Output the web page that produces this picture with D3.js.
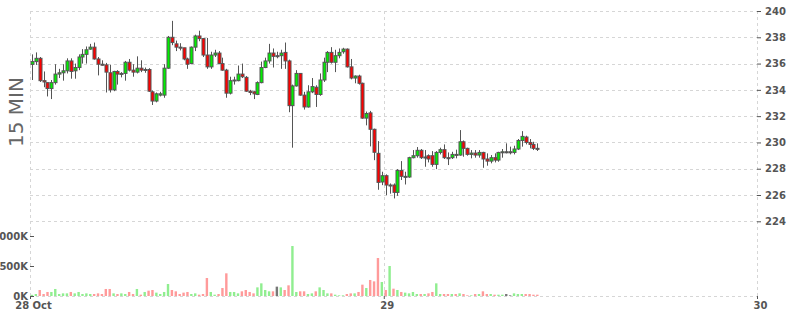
<!DOCTYPE html>
<html><head><meta charset="utf-8">
<script src="https://cdn.jsdelivr.net/npm/d3@7"></script>
<style>html,body{margin:0;padding:0;background:#fff;} svg{display:block;}</style>
</head><body><svg id="c" width="800" height="315"></svg>
<script>
// ---- data (15-minute candles starting 28 Oct 01:15) ----
const openP = [235.94,236.15,236.4,234.7,234.55,234.1,234.55,235.2,235.3,235.45,
236.2,235.45,235.7,236.5,236.7,237.1,237.25,236.35,235.95,235.9,
235.3,234.0,235.4,235.2,235.25,236.1,235.5,235.35,235.65,235.5,
235.55,233.85,233.15,233.6,233.6,235.65,238.0,237.5,237.25,237.2,
236.35,236.0,237.25,238.1,237.9,236.65,235.75,236.65,236.8,236.0,
235.5,233.75,234.7,234.7,235.2,234.95,233.9,233.85,233.65,234.55,
235.7,236.2,236.8,236.6,236.6,236.85,236.2,232.8,234.3,235.25,
233.6,232.7,233.85,234.2,233.65,234.75,236.1,236.85,236.1,236.6,
236.9,237.1,235.75,234.9,235.05,234.5,231.85,232.25,231.0,229.17,
226.99,227.47,226.7,226.76,226.2,227.87,227.37,227.37,228.84,228.99,
229.4,228.84,228.99,228.99,228.33,229.24,229.45,228.84,228.84,229.09,
229.04,230.05,229.55,229.09,229.19,229.04,229.24,228.74,228.58,228.84,
228.66,229.24,229.29,229.29,229.24,229.5,230.15,230.41,230.0,229.85,
229.55];
const highP = [236.7,236.85,236.5,235.4,234.55,234.75,235.95,235.6,235.95,236.4,
236.4,236.0,236.7,237.1,237.3,237.5,237.6,236.5,236.25,236.05,
235.9,235.45,235.5,235.35,236.2,236.35,235.95,236.55,236.25,235.7,
235.65,233.95,233.8,233.85,235.95,238.1,239.25,237.75,237.55,237.2,
236.45,237.3,238.2,238.5,237.95,237.95,236.9,237.05,236.95,236.45,
235.6,235.0,235.0,235.85,236.0,235.05,234.0,233.9,234.65,236.15,
236.45,237.5,237.15,236.9,237.05,237.6,236.3,234.4,235.5,235.25,
233.85,234.35,234.9,234.35,235.25,236.45,236.95,237.25,237.05,237.15,
237.2,237.15,236.35,235.1,235.15,234.55,232.35,232.4,231.05,230.1,
227.77,227.57,226.88,226.88,227.97,228.58,227.77,228.91,229.42,229.65,
229.5,229.42,229.09,229.34,229.34,229.6,229.85,229.24,229.29,229.45,
230.94,230.15,229.6,229.42,229.42,229.42,229.29,229.17,229.04,229.17,
229.29,229.5,229.93,229.68,229.75,230.26,230.86,230.51,230.26,230.05,
229.93];
const lowP = [234.75,235.9,234.6,234.2,233.5,233.3,234.4,234.9,234.7,235.25,
234.85,234.85,235.5,236.0,236.0,237.05,236.3,235.1,235.85,233.8,
233.8,233.9,234.4,234.95,234.7,235.4,235.0,235.25,235.35,235.3,
233.85,232.85,233.05,233.5,233.4,235.6,237.4,236.95,237.0,236.25,
235.6,235.95,236.95,237.7,236.5,235.6,235.6,236.5,235.95,235.45,
233.4,233.65,234.4,234.65,234.9,233.85,233.6,233.3,233.6,234.5,
235.65,236.0,235.7,236.4,235.6,235.6,232.3,229.6,234.25,233.55,
232.5,232.65,233.75,232.7,233.55,234.6,235.35,236.0,235.35,236.4,
236.75,235.7,234.8,234.5,234.4,231.8,231.3,229.7,228.65,226.4,
226.75,225.99,226.1,225.74,225.94,227.14,226.8,227.31,228.79,228.84,
228.74,228.15,228.48,228.15,227.97,229.09,228.74,228.28,228.74,228.79,
228.99,228.91,228.99,228.79,228.84,228.84,228.07,228.23,228.41,228.48,
228.53,228.84,229.17,229.09,229.09,229.42,229.68,229.85,229.55,229.42,
229.35];
const closeP = [236.15,236.4,234.7,234.6,234.1,234.55,235.2,235.3,235.45,236.2,
235.4,235.7,236.5,236.7,237.05,237.25,236.35,235.95,235.9,235.35,
234.0,235.4,235.2,235.25,236.1,235.5,235.35,235.65,235.5,235.55,
233.9,233.15,233.7,233.7,235.65,238.0,237.6,237.25,237.2,236.35,
235.95,237.25,238.1,237.9,236.65,235.75,236.65,236.8,236.0,235.5,
233.75,234.7,234.75,235.2,235.0,233.9,233.8,233.7,234.55,235.7,
236.2,236.8,236.55,236.6,236.8,236.2,232.8,234.3,235.25,233.6,
232.7,233.85,234.25,233.65,234.75,236.1,236.85,236.1,236.6,236.85,
237.1,235.75,234.9,235.05,234.5,231.85,232.2,231.0,229.25,226.96,
227.47,226.76,226.76,226.2,227.87,227.42,227.42,228.84,228.99,229.4,
228.84,228.89,228.74,228.33,229.24,229.45,228.84,228.79,229.09,229.04,
230.05,229.55,229.09,229.19,229.04,229.24,228.74,228.58,228.84,228.66,
229.24,229.29,229.29,229.29,229.5,230.15,230.46,230.0,229.85,229.55,
229.5];
const volumeK = [20,33,100,33,67,67,117,33,44,44,
67,44,67,33,44,33,33,44,33,117,
117,44,33,44,33,67,33,117,22,67,
89,100,56,33,67,200,100,78,33,56,
67,33,44,22,33,300,67,22,33,133,
378,67,67,44,78,100,67,44,144,211,
100,78,78,156,144,100,178,833,67,78,
78,33,44,78,144,100,44,44,22,11,
11,33,44,44,67,189,133,267,244,633,
233,100,500,122,100,67,56,44,67,33,
33,33,44,67,211,33,33,33,33,33,
44,33,11,11,33,33,78,33,33,22,
22,22,33,11,44,33,33,33,33,22,
22];
const priceTicks = [224,226,228,230,232,234,236,238,240];
const volumeTicks = [0,500,1000];
const dayLabels = ["28 Oct","29","30"];
const dayTimes = [Date.UTC(2019,9,28,1,15), Date.UTC(2019,9,29), Date.UTC(2019,9,30)];
const firstCandle = Date.UTC(2019,9,28,1,15);
const axisTitle = "15 MIN";

// ---- layout ----
const L = 30, R = 757, VB = 296;
const svg = d3.select("#c");
const x = d3.scaleUtc().domain([dayTimes[0], dayTimes[2]]).range([L, R]);
const yP = d3.scaleLinear().domain([224, 240]).range([221.3, 11]);
const yV = d3.scaleLinear().domain([0, 1000]).range([VB, 236]);
const Q = 15 * 60 * 1000;
const candles = openP.map((o, i) => ({
  t: new Date(firstCandle + i * Q + Q / 2), o, h: highP[i], l: lowP[i], c: closeP[i], v: volumeK[i]
}));

const grid = svg.append("g").attr("stroke", "#d6d6d6").attr("stroke-dasharray", "3,3").attr("stroke-width", 1);
grid.selectAll("line.h").data(priceTicks).join("line")
  .attr("x1", L).attr("x2", R)
  .attr("y1", d => Math.round(yP(d)) + 0.5).attr("y2", d => Math.round(yP(d)) + 0.5);
grid.append("line").attr("x1", L).attr("x2", R).attr("y1", VB + 0.5).attr("y2", VB + 0.5);
grid.selectAll("line.v").data(dayTimes).join("line")
  .attr("x1", d => Math.round(x(d)) + 0.5).attr("x2", d => Math.round(x(d)) + 0.5)
  .attr("y1", 11).attr("y2", VB);

// volume bars
const dir = d => d.c > d.o ? "up" : (d.c < d.o ? "down" : "flat");
const volColor = {up: "#90ee90", down: "#ff9a9a", flat: "#777"};
svg.append("g").selectAll("rect").data(candles).join("rect")
  .attr("x", d => x(d.t) - 1.2).attr("width", 2.4)
  .attr("y", d => yV(d.v)).attr("height", d => VB - yV(d.v))
  .attr("fill", d => volColor[dir(d)]);

// candles
const bodyColor = {up: "#00f000", down: "#ff0000", flat: "#555"};
const cg = svg.append("g");
cg.selectAll("line").data(candles).join("line")
  .attr("x1", d => Math.round(x(d.t)) + 0.5).attr("x2", d => Math.round(x(d.t)) + 0.5)
  .attr("y1", d => yP(d.h)).attr("y2", d => yP(d.l))
  .attr("stroke", "#555").attr("stroke-width", 1);
cg.selectAll("rect").data(candles).join("rect")
  .attr("x", d => Math.round(x(d.t)) - 1).attr("width", 3)
  .attr("y", d => yP(Math.max(d.o, d.c)))
  .attr("height", d => Math.max(1, Math.abs(yP(d.o) - yP(d.c))))
  .attr("fill", d => bodyColor[dir(d)])
  .attr("stroke", "#555").attr("stroke-width", 1);

const font = "DejaVu Sans, Verdana, sans-serif";
function styleAxis(g) {
  g.select(".domain").remove();
  g.selectAll("line").attr("stroke", "#555");
  g.selectAll("text").attr("fill", "#555").attr("font-weight", "bold")
    .attr("font-size", 10).attr("font-family", font);
}
// price axis (right)
svg.append("g").attr("transform", `translate(${R},0)`)
  .call(d3.axisRight(yP).tickValues(priceTicks).tickSize(4).tickPadding(4).tickFormat(d3.format("d")))
  .call(styleAxis);
// volume axis (left)
svg.append("g").attr("transform", `translate(${L},0)`)
  .call(d3.axisLeft(yV).tickValues(volumeTicks).tickSize(-4).tickPadding(2).tickFormat(d => d + "K"))
  .call(styleAxis);
// time axis
svg.append("g").attr("transform", `translate(0,${VB})`)
  .call(d3.axisBottom(x).tickValues(dayTimes).tickSize(3).tickPadding(3).tickFormat((d, i) => dayLabels[i]))
  .call(styleAxis)
  .call(g => g.selectAll("text").attr("dx", 3));

// title
svg.append("text").attr("transform", "translate(23,112) rotate(-90)")
  .attr("text-anchor", "middle").attr("font-family", font).attr("font-size", 20)
  .attr("fill", "#666").text(axisTitle);
</script>
</body></html>
